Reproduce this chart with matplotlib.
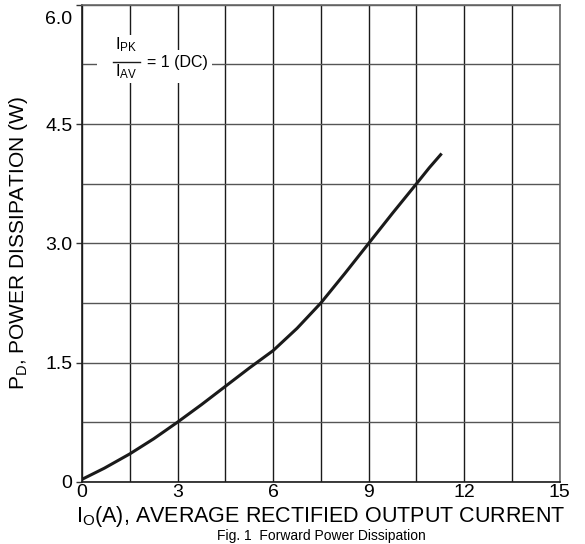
import numpy as np
import matplotlib
matplotlib.use("Agg")
import matplotlib.pyplot as plt
from matplotlib.ticker import MultipleLocator
from matplotlib.transforms import ScaledTranslation
from matplotlib.patches import Rectangle

plt.rcParams['font.family'] = ['Liberation Sans', 'DejaVu Sans']
plt.rcParams['mathtext.fontset'] = 'custom'
plt.rcParams['mathtext.rm'] = 'Liberation Sans'
plt.rcParams['mathtext.it'] = 'Liberation Sans'

# curve
current = [0, 0.7, 1.5, 2.25, 3, 3.75, 4.5, 5.25, 6, 6.75, 7.5, 8.25, 9, 9.75, 10.5, 10.9, 11.29]
power = [0.03, 0.17, 0.35, 0.54, 0.75, 0.97, 1.2, 1.43, 1.65, 1.93, 2.25, 2.62, 3.0, 3.38, 3.75, 3.95, 4.13]

x_ticks = [0, 3, 6, 9, 12, 15]
y_ticks = [0, 1.5, 3.0, 4.5, 6.0]
y_tick_labels = ['0', '1.5', '3.0', '4.5', '6.0']

fig = plt.figure(figsize=(5.85, 5.44), dpi=100)
ax = fig.add_axes([0.1402, 0.1145, 0.8168, 0.8765])

ax.set_xlim(0, 15)
ax.set_ylim(0, 6)

ax.xaxis.set_minor_locator(MultipleLocator(1.5))
ax.yaxis.set_minor_locator(MultipleLocator(0.75))
ax.grid(which='both', axis='x', color='#1a1a1a', linewidth=1.0)
ax.grid(which='both', axis='y', color='#555555', linewidth=1.0)
ax.set_axisbelow(True)

ax.plot(current, power, color='#1a1a1a', linewidth=2.2, solid_joinstyle='round',
        solid_capstyle='butt', zorder=3)

ax.set_xticks(x_ticks)
ax.set_xticklabels([str(t) for t in x_ticks])
ax.set_yticks(y_ticks)
ax.set_yticklabels(y_tick_labels)
ax.tick_params(which='both', labelsize=14)
ax.tick_params(axis='x', which='both', length=0, pad=2)
ax.tick_params(axis='y', which='major', direction='out', length=4, width=1,
               color='#333333', pad=3)
ax.tick_params(axis='y', which='minor', length=0)

# the top label sits a bit below the frame in the original
top_lab = ax.get_yticklabels()[-1]
top_lab.set_transform(top_lab.get_transform() + ScaledTranslation(0, -9 / 72, fig.dpi_scale_trans))

for side in ['left', 'bottom']:
    ax.spines[side].set_color('#1a1a1a')
    ax.spines[side].set_linewidth(1.2)
for side in ['top', 'right']:
    ax.spines[side].set_color('#666666')
    ax.spines[side].set_linewidth(1.2)

ax.set_xlabel(r'I$_\mathregular{O}$(A), AVERAGE RECTIFIED OUTPUT CURRENT', fontsize=15.5, labelpad=2)
ax.set_ylabel(r'P$_\mathregular{D}$, POWER DISSIPATION (W)', fontsize=15, labelpad=11)

# I_PK / I_AV = 1 (DC) note on a white patch
ax.add_patch(Rectangle((0.47, 5.02), 3.61, 0.41, facecolor='white', edgecolor='none', zorder=2.5))
ax.text(1.04, 5.44, r'I$_\mathregular{PK}$', fontsize=12, ha='left', va='baseline', zorder=4,
        bbox=dict(facecolor='white', edgecolor='none', pad=0.5))
ax.plot([0.98, 1.82], [5.285, 5.285], color='#1a1a1a', linewidth=1.0, zorder=4)
ax.text(1.04, 5.10, r'I$_\mathregular{AV}$', fontsize=12, ha='left', va='baseline', zorder=4)
ax.text(2.04, 5.28, '= 1 (DC)', fontsize=11.5, ha='left', va='center', zorder=4)

fig.text(0.55, 0.002, 'Fig. 1  Forward Power Dissipation', fontsize=10, ha='center', va='bottom')

fig.savefig('out.png', dpi=100)
